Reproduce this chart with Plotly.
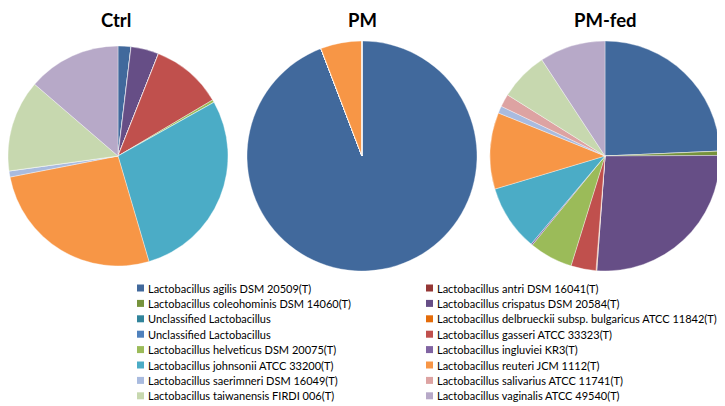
import plotly.graph_objects as go

species = [
    "Lactobacillus agilis DSM 20509(T)",
    "Lactobacillus antri DSM 16041(T)",
    "Lactobacillus coleohominis DSM 14060(T)",
    "Lactobacillus crispatus DSM 20584(T)",
    "Unclassified Lactobacillus",
    "Lactobacillus delbrueckii subsp. bulgaricus ATCC 11842(T)",
    "Unclassified Lactobacillus ",
    "Lactobacillus gasseri ATCC 33323(T)",
    "Lactobacillus helveticus DSM 20075(T)",
    "Lactobacillus ingluviei KR3(T)",
    "Lactobacillus johnsonii ATCC 33200(T)",
    "Lactobacillus reuteri JCM 1112(T)",
    "Lactobacillus saerimneri DSM 16049(T)",
    "Lactobacillus salivarius ATCC 11741(T)",
    "Lactobacillus taiwanensis FIRDI 006(T)",
    "Lactobacillus vaginalis ATCC 49540(T)",
]
colors = [
    "#41699C", "#953735", "#76933C", "#664E86", "#31849B", "#E46C0A",
    "#4F81BD", "#C0504D", "#9BBB59", "#8064A2", "#4BACC6", "#F79646",
    "#A9BBDF", "#DDA3A2", "#C7D8AF", "#B7A9C8",
]
ctrl = [1.9, 0, 0, 4.1, 0, 0, 0, 10.5, 0.4, 0, 28.6, 26.5, 0.9, 0, 13.5, 13.7]
pm = [94.2, 0, 0, 0, 0, 0, 0, 0, 0, 0, 0, 5.8, 0, 0, 0, 0]
pmfed = [24.2, 0, 0.6, 26.1, 0, 0.1, 0, 3.5, 6.1, 0.2, 9.2, 10.7, 1.0, 1.8, 6.8, 9.2]
groups = ["Ctrl", "PM", "PM-fed"]

W, H = 725, 406
OFF = 8  # the page adds an 8px body margin; positions below are page pixels

def px(x):
    return min(max((x - OFF) / W, 0), 1)

def py(y):
    return min(max((H - (y - OFF)) / H, 0), 1)

fig = go.Figure()

# pie geometry in page pixels: (center x, center y, radius)
geo = [(118, 156, 110), (362, 156, 115), (605, 156, 115)]
for vals, (cx, cy, r), name in zip([ctrl, pm, pmfed], geo, groups):
    fig.add_trace(go.Pie(
        labels=species, values=vals, name=name, sort=False,
        direction="clockwise", rotation=0,
        marker=dict(colors=colors, line=dict(width=0.6, color="rgba(255,255,255,0.6)")),
        textinfo="none", hoverinfo="label+percent", showlegend=False,
        domain=dict(x=[px(cx - r), px(cx + r)],
                    y=[py(cy + r), py(cy - r)]),
    ))

title_x = [116, 362, 605]
for tx, name in zip(title_x, groups):
    fig.add_annotation(text="<b>%s</b>" % name, x=px(tx), y=1,
                       xref="paper", yref="paper", showarrow=False,
                       xanchor="center", yanchor="top", yshift=1,
                       font=dict(size=18.5, color="#000000", family="Lato, Liberation Sans, sans-serif"))

# legend built from the species / colour lists: two columns, row-wise order
col_x = [137, 426]
row_y0, row_dy = 288, 15.4
for i, (lab, col) in enumerate(zip(species, colors)):
    cxp = col_x[i % 2]
    cyp = row_y0 + (i // 2) * row_dy
    fig.add_shape(type="rect", xref="paper", yref="paper",
                  x0=px(cxp), x1=px(cxp + 7),
                  y0=py(cyp + 3.5), y1=py(cyp - 3.5),
                  fillcolor=col, line=dict(width=0))
    fig.add_annotation(text=lab.strip(), x=px(cxp + 9), y=py(cyp),
                       xref="paper", yref="paper", showarrow=False,
                       xanchor="left", yanchor="middle",
                       font=dict(size=11, color="#000000",
                                 family="Lato, sans-serif"))

fig.update_layout(
    width=W, height=H, margin=dict(l=0, r=0, t=0, b=0),
    paper_bgcolor="white", plot_bgcolor="white", showlegend=False,
)
fig.write_html("out.html")
